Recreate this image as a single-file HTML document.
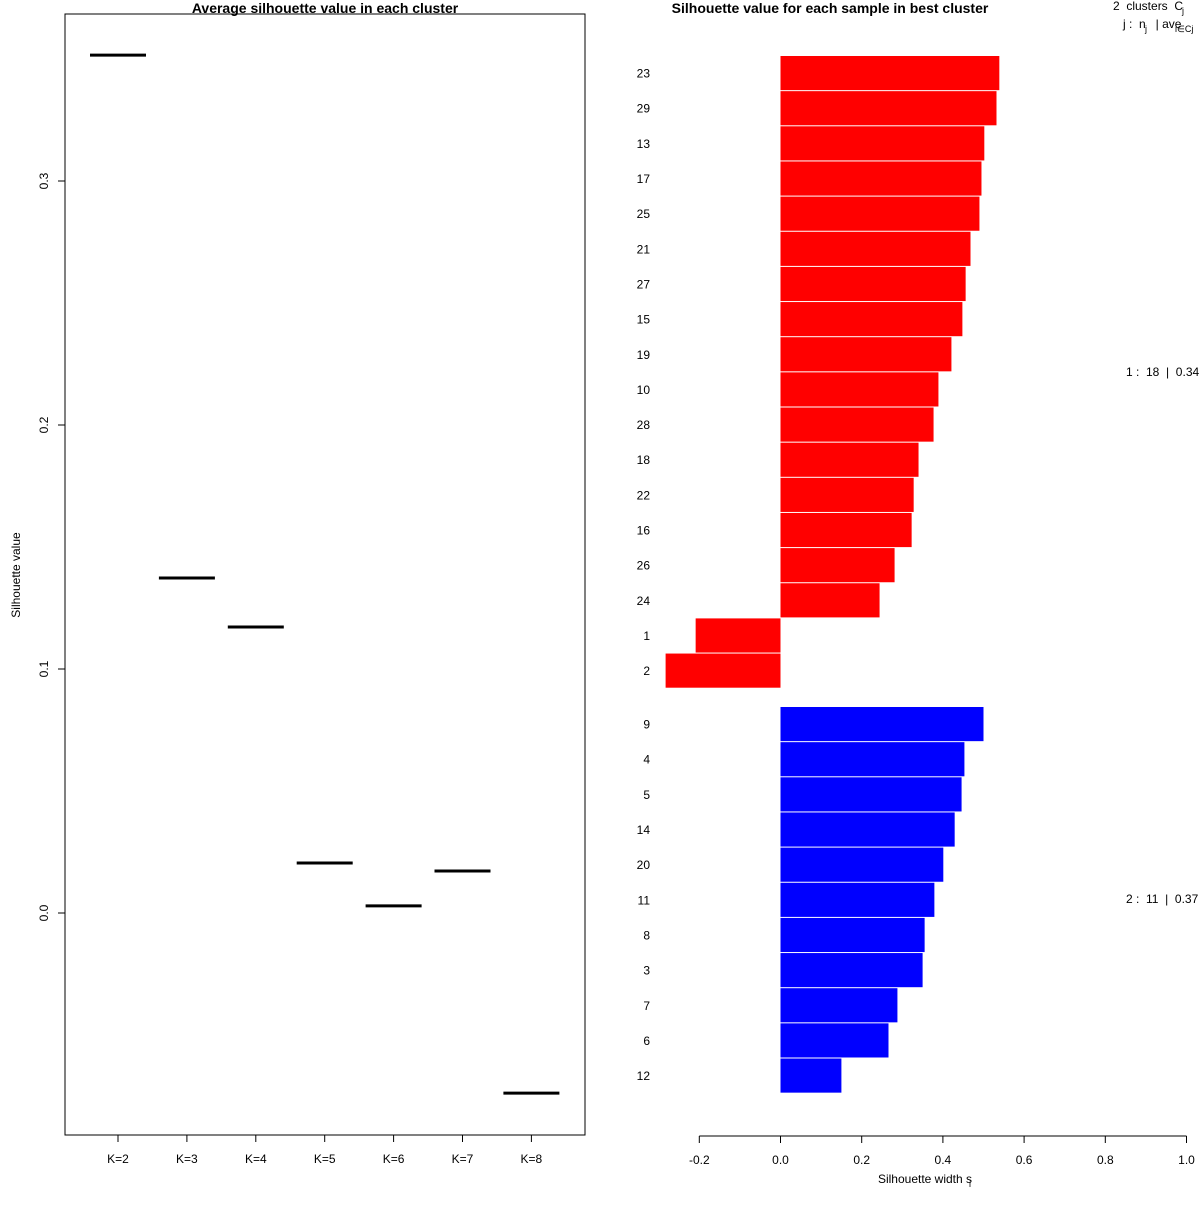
<!DOCTYPE html>
<html><head><meta charset="utf-8"><style>
body{margin:0;background:#fff}
svg{font-family:"Liberation Sans",sans-serif}
text{white-space:pre}
</style></head><body>
<svg id="s" width="1200" height="1200" xmlns="http://www.w3.org/2000/svg">
<rect width="1200" height="1200" fill="#fff"/>
<g id="left"></g>
<g id="right"></g>
</svg>
<script>
const kLabels=["K=2","K=3","K=4","K=5","K=6","K=7","K=8"];
const avgSil=[0.3516,0.1373,0.1172,0.0205,0.0029,0.0172,-0.0738];
const yTicks=[0.0,0.1,0.2,0.3];
const redIds=["23","29","13","17","25","21","27","15","19","10","28","18","22","16","26","24","1","2"];
const redVals=[0.539,0.532,0.502,0.495,0.490,0.468,0.456,0.448,0.421,0.389,0.377,0.340,0.328,0.323,0.281,0.244,-0.209,-0.283];
const blueIds=["9","4","5","14","20","11","8","3","7","6","12"];
const blueVals=[0.500,0.453,0.446,0.429,0.401,0.379,0.355,0.350,0.288,0.266,0.150];
const xTicks=[-0.2,0,0.2,0.4,0.6,0.8,1.0];

const NS="http://www.w3.org/2000/svg";
function mk(p,t,a,txt){const e=document.createElementNS(NS,t);for(const k in a)e.setAttribute(k,a[k]);if(txt!==undefined)e.textContent=txt;p.appendChild(e);return e;}
const L=document.getElementById('left'),R=document.getElementById('right');
const ly=v=>913-(v)*2440;
const lx=i=>118+i*68.9;
let e=mk(L,'rect',{x:65,y:14,width:520,height:1121,fill:'none',stroke:'#000'});

e=mk(L,'text',{x:325,y:13,'text-anchor':'middle','font-size':14,'font-weight':'bold'},'Average silhouette value in each cluster');

e=mk(L,'text',{x:20,y:575,'text-anchor':'middle','font-size':12,transform:'rotate(-90 20 575)'},'Silhouette value');

yTicks.forEach(v=>{const y=ly(v);mk(L,'line',{x1:65,x2:58,y1:y,y2:y,stroke:'#000'});
e=mk(L,'text',{x:48,y:y,'text-anchor':'middle','font-size':12,transform:`rotate(-90 48 ${y})`},v.toFixed(1));
});
kLabels.forEach((k,i)=>{const x=lx(i);mk(L,'line',{x1:x,x2:x,y1:1135,y2:1142,stroke:'#000'});
e=mk(L,'text',{x:x,y:1163,'text-anchor':'middle','font-size':12},k);

e=mk(L,'line',{x1:x-28,x2:x+28,y1:ly(avgSil[i]),y2:ly(avgSil[i]),stroke:'#000','stroke-width':3});
});
const rx=v=>780.5+v*406;
e=mk(R,'text',{x:830,y:13,'text-anchor':'middle','font-size':14,'font-weight':'bold'},'Silhouette value for each sample in best cluster');

const bh=35.15;
function bars(ids,vals,y0,col){ids.forEach((id,i)=>{const v=vals[i];const y=y0+i*bh;const x=Math.min(rx(0),rx(v));
e=mk(R,'rect',{x:x,y:y,width:Math.abs(rx(v)-rx(0)),height:bh-1,fill:col});

e=mk(R,'text',{x:650,y:y+bh/2+4,'text-anchor':'end','font-size':12},id);
});}
bars(redIds,redVals,56,'#ff0000');
bars(blueIds,blueVals,707,'#0000ff');
mk(R,'line',{x1:rx(-0.2),x2:rx(1),y1:1136,y2:1136,stroke:'#000'});
xTicks.forEach(v=>{const x=rx(v);mk(R,'line',{x1:x,x2:x,y1:1136,y2:1143,stroke:'#000'});
e=mk(R,'text',{x:x,y:1164,'text-anchor':'middle','font-size':12},v.toFixed(1));
});
e=mk(R,'text',{x:925,y:1183,'text-anchor':'middle','font-size':12},'Silhouette width s');

mk(R,'text',{x:969,y:1187,'font-size':9},'i');
e=mk(R,'text',{x:1113,y:10,'font-size':12},'2  clusters  C');
mk(R,'text',{x:1182,y:14,'font-size':9},'j');
e=mk(R,'text',{x:1123,y:28,'font-size':12},'j :  n   | ave      s');
mk(R,'text',{x:1145,y:32,'font-size':9},'j');mk(R,'text',{x:1175,y:32,'font-size':9},'i∈Cj');
e=mk(R,'text',{x:1126,y:376,'font-size':12},'1 :  18  |  0.34');
e=mk(R,'text',{x:1126,y:903,'font-size':12},'2 :  11  |  0.37');
</script>
</body></html>
